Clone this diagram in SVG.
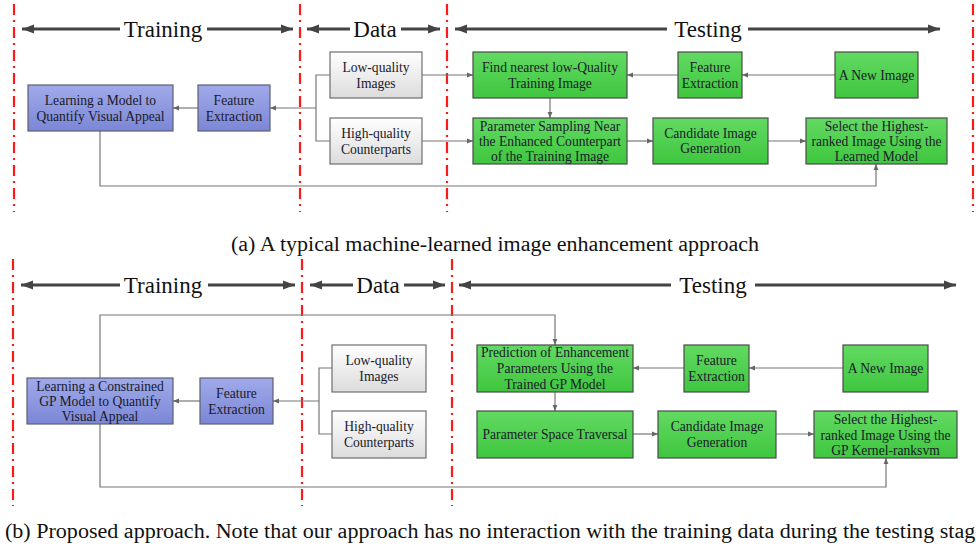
<svg xmlns="http://www.w3.org/2000/svg" width="976" height="550" viewBox="0 0 976 550">
  <defs>
    <linearGradient id="gBlue" x1="0" y1="0" x2="0" y2="1">
      <stop offset="0" stop-color="#a0aaea"/>
      <stop offset="1" stop-color="#7b87d6"/>
    </linearGradient>
    <linearGradient id="gGreen" x1="0" y1="0" x2="0" y2="1">
      <stop offset="0" stop-color="#62da62"/>
      <stop offset="1" stop-color="#3fc63f"/>
    </linearGradient>
    <linearGradient id="gGray" x1="0" y1="0" x2="0" y2="1">
      <stop offset="0" stop-color="#ffffff"/>
      <stop offset="1" stop-color="#dcdcdc"/>
    </linearGradient>
    <marker id="arr" viewBox="0 0 8 8" refX="8" refY="4" markerWidth="6" markerHeight="6" orient="auto" markerUnits="userSpaceOnUse">
      <path d="M0,0.8 L8,4 L0,7.2 z" fill="#666"/>
    </marker>
    <marker id="bigArr" viewBox="0 0 12 10" refX="12" refY="5" markerWidth="12" markerHeight="10" orient="auto" markerUnits="userSpaceOnUse">
      <path d="M0,0.5 L12,5 L0,9.5 z" fill="#444"/>
    </marker>
  </defs>
  <style>
    .sep { stroke: #ff1a1a; stroke-width: 2.2; stroke-dasharray: 11 5 2 5; fill: none; }
    .hdr { stroke: #444; stroke-width: 3; fill: none; marker-end: url(#bigArr); }
    .hdrText { font-family: "Liberation Serif", "DejaVu Serif", serif; font-size: 23px; fill: #111; text-anchor: middle; }
    .blue { fill: url(#gBlue); stroke: #5c6070; stroke-width: 1.2; }
    .green { fill: url(#gGreen); stroke: #4a4a4a; stroke-width: 1.2; }
    .gray { fill: url(#gGray); stroke: #6e6e6e; stroke-width: 1.2; }
    .lbl { font-family: "Liberation Serif", "DejaVu Serif", serif; font-size: 13.6px; fill: #1a1a2a; text-anchor: middle; }
    .conn { stroke: #777; stroke-width: 1.2; fill: none; }
    .conn.a { marker-end: url(#arr); }
    .cap { font-family: "Liberation Serif", "Times New Roman", serif; font-size: 20px; fill: #111; }
  </style>

  <!-- ===== Panel (a) ===== -->
  <g id="a-separators">
    <line class="sep" x1="14" y1="4" x2="14" y2="212"/>
    <line class="sep" x1="300" y1="4" x2="300" y2="212"/>
    <line class="sep" x1="447" y1="4" x2="447" y2="212"/>
    <line class="sep" x1="973" y1="4" x2="973" y2="212"/>
  </g>
  <g id="a-headers">
    <line class="hdr" x1="120" y1="29" x2="22" y2="29"/>
    <line class="hdr" x1="207" y1="29" x2="293" y2="29"/>
    <text class="hdrText" x="163" y="37">Training</text>
    <line class="hdr" x1="350" y1="29" x2="307" y2="29"/>
    <line class="hdr" x1="401" y1="29" x2="440" y2="29"/>
    <text class="hdrText" x="375" y="37">Data</text>
    <line class="hdr" x1="667" y1="29" x2="455" y2="29"/>
    <line class="hdr" x1="748" y1="29" x2="940" y2="29"/>
    <text class="hdrText" x="708" y="37">Testing</text>
  </g>

  <g id="a-connectors">
    <polyline class="conn" points="330,75 316,75 316,141 330,141"/>
    <line class="conn a" x1="316" y1="108" x2="270" y2="108"/>
    <line class="conn a" x1="198" y1="108" x2="173" y2="108"/>
    <line class="conn a" x1="422" y1="75" x2="473" y2="75"/>
    <line class="conn a" x1="422" y1="141" x2="473" y2="141"/>
    <line class="conn a" x1="835" y1="75" x2="742" y2="75"/>
    <line class="conn a" x1="678" y1="75" x2="627" y2="75"/>
    <line class="conn a" x1="550" y1="98" x2="550" y2="118"/>
    <line class="conn a" x1="627" y1="141" x2="653" y2="141"/>
    <line class="conn a" x1="768" y1="141" x2="806" y2="141"/>
    <polyline class="conn a" points="100,131 100,186 876,186 876,164"/>
  </g>

  <g id="a-learn">
    <rect class="blue" x="28" y="85" width="145" height="46"/>
    <text class="lbl" x="100.5" y="105">Learning a Model to</text>
    <text class="lbl" x="100.5" y="121">Quantify Visual Appeal</text>
  </g>
  <g id="a-train-feature">
    <rect class="blue" x="198" y="85" width="72" height="46"/>
    <text class="lbl" x="234" y="105">Feature</text>
    <text class="lbl" x="234" y="121">Extraction</text>
  </g>
  <g id="a-low">
    <rect class="gray" x="330" y="52" width="92" height="46"/>
    <text class="lbl" x="376" y="72">Low-quality</text>
    <text class="lbl" x="376" y="88">Images</text>
  </g>
  <g id="a-high">
    <rect class="gray" x="330" y="118" width="92" height="46"/>
    <text class="lbl" x="376" y="138">High-quality</text>
    <text class="lbl" x="376" y="154">Counterparts</text>
  </g>
  <g id="a-nearest">
    <rect class="green" x="473" y="52" width="154" height="46"/>
    <text class="lbl" x="550" y="72">Find nearest low-Quality</text>
    <text class="lbl" x="550" y="88">Training Image</text>
  </g>
  <g id="a-test-feature">
    <rect class="green" x="678" y="52" width="64" height="46"/>
    <text class="lbl" x="710" y="72">Feature</text>
    <text class="lbl" x="710" y="88">Extraction</text>
  </g>
  <g id="a-new">
    <rect class="green" x="835" y="52" width="83" height="46"/>
    <text class="lbl" x="876.5" y="80">A New Image</text>
  </g>
  <g id="a-sampling">
    <rect class="green" x="473" y="118" width="154" height="46"/>
    <text class="lbl" x="550" y="131">Parameter Sampling Near</text>
    <text class="lbl" x="550" y="146">the Enhanced Counterpart</text>
    <text class="lbl" x="550" y="161">of the Training Image</text>
  </g>
  <g id="a-candidate">
    <rect class="green" x="653" y="118" width="115" height="46"/>
    <text class="lbl" x="710.5" y="138">Candidate Image</text>
    <text class="lbl" x="710.5" y="153">Generation</text>
  </g>
  <g id="a-select">
    <rect class="green" x="806" y="118" width="141" height="46"/>
    <text class="lbl" x="876.5" y="131">Select the Highest-</text>
    <text class="lbl" x="876.5" y="146">ranked Image Using the</text>
    <text class="lbl" x="876.5" y="161">Learned Model</text>
  </g>

  <text class="cap" x="231" y="251" textLength="528" lengthAdjust="spacingAndGlyphs">(a) A typical machine-learned image enhancement approach</text>

  <!-- ===== Panel (b) ===== -->
  <g id="b-separators">
    <line class="sep" x1="13" y1="259" x2="13" y2="506"/>
    <line class="sep" x1="302" y1="259" x2="302" y2="506"/>
    <line class="sep" x1="452" y1="259" x2="452" y2="506"/>
  </g>
  <g id="b-headers">
    <line class="hdr" x1="120" y1="285" x2="21" y2="285"/>
    <line class="hdr" x1="208" y1="285" x2="295" y2="285"/>
    <text class="hdrText" x="163" y="293">Training</text>
    <line class="hdr" x1="353" y1="285" x2="310" y2="285"/>
    <line class="hdr" x1="404" y1="285" x2="445" y2="285"/>
    <text class="hdrText" x="378" y="293">Data</text>
    <line class="hdr" x1="671" y1="285" x2="459" y2="285"/>
    <line class="hdr" x1="755" y1="285" x2="956" y2="285"/>
    <text class="hdrText" x="713" y="293">Testing</text>
  </g>

  <g id="b-connectors">
    <polyline class="conn" points="332,368 319,368 319,434 332,434"/>
    <line class="conn a" x1="319" y1="401" x2="273" y2="401"/>
    <line class="conn a" x1="200" y1="401" x2="173" y2="401"/>
    <polyline class="conn a" points="100,378 100,315 555,315 555,345"/>
    <polyline class="conn a" points="100,424 100,487 886,487 886,458"/>
    <line class="conn a" x1="843" y1="368" x2="749" y2="368"/>
    <line class="conn a" x1="684" y1="368" x2="633" y2="368"/>
    <line class="conn a" x1="555" y1="392" x2="555" y2="411"/>
    <line class="conn a" x1="633" y1="434" x2="658" y2="434"/>
    <line class="conn a" x1="776" y1="434" x2="814" y2="434"/>
  </g>

  <g id="b-learn">
    <rect class="blue" x="27" y="378" width="146" height="46"/>
    <text class="lbl" x="100" y="391">Learning a Constrained</text>
    <text class="lbl" x="100" y="406">GP Model to Quantify</text>
    <text class="lbl" x="100" y="421">Visual Appeal</text>
  </g>
  <g id="b-train-feature">
    <rect class="blue" x="200" y="378" width="73" height="46"/>
    <text class="lbl" x="236.5" y="398">Feature</text>
    <text class="lbl" x="236.5" y="414">Extraction</text>
  </g>
  <g id="b-low">
    <rect class="gray" x="332" y="345" width="94" height="47"/>
    <text class="lbl" x="379" y="365">Low-quality</text>
    <text class="lbl" x="379" y="381">Images</text>
  </g>
  <g id="b-high">
    <rect class="gray" x="332" y="411" width="94" height="47"/>
    <text class="lbl" x="379" y="431">High-quality</text>
    <text class="lbl" x="379" y="447">Counterparts</text>
  </g>
  <g id="b-predict">
    <rect class="green" x="477" y="345" width="156" height="47"/>
    <text class="lbl" x="555" y="357">Prediction of Enhancement</text>
    <text class="lbl" x="555" y="373">Parameters Using the</text>
    <text class="lbl" x="555" y="389">Trained GP Model</text>
  </g>
  <g id="b-test-feature">
    <rect class="green" x="684" y="345" width="65" height="47"/>
    <text class="lbl" x="716.5" y="365">Feature</text>
    <text class="lbl" x="716.5" y="381">Extraction</text>
  </g>
  <g id="b-new">
    <rect class="green" x="843" y="345" width="85" height="47"/>
    <text class="lbl" x="885.5" y="373">A New Image</text>
  </g>
  <g id="b-traversal">
    <rect class="green" x="477" y="411" width="156" height="47"/>
    <text class="lbl" x="555" y="439">Parameter Space Traversal</text>
  </g>
  <g id="b-candidate">
    <rect class="green" x="658" y="411" width="118" height="47"/>
    <text class="lbl" x="717" y="431">Candidate Image</text>
    <text class="lbl" x="717" y="447">Generation</text>
  </g>
  <g id="b-select">
    <rect class="green" x="814" y="411" width="143" height="47"/>
    <text class="lbl" x="885.5" y="424">Select the Highest-</text>
    <text class="lbl" x="885.5" y="440">ranked Image Using the</text>
    <text class="lbl" x="885.5" y="455">GP Kernel-ranksvm</text>
  </g>

  <text class="cap" x="5" y="538" textLength="980" lengthAdjust="spacingAndGlyphs">(b) Proposed approach. Note that our approach has no interaction with the training data during the testing stage</text>
</svg>
